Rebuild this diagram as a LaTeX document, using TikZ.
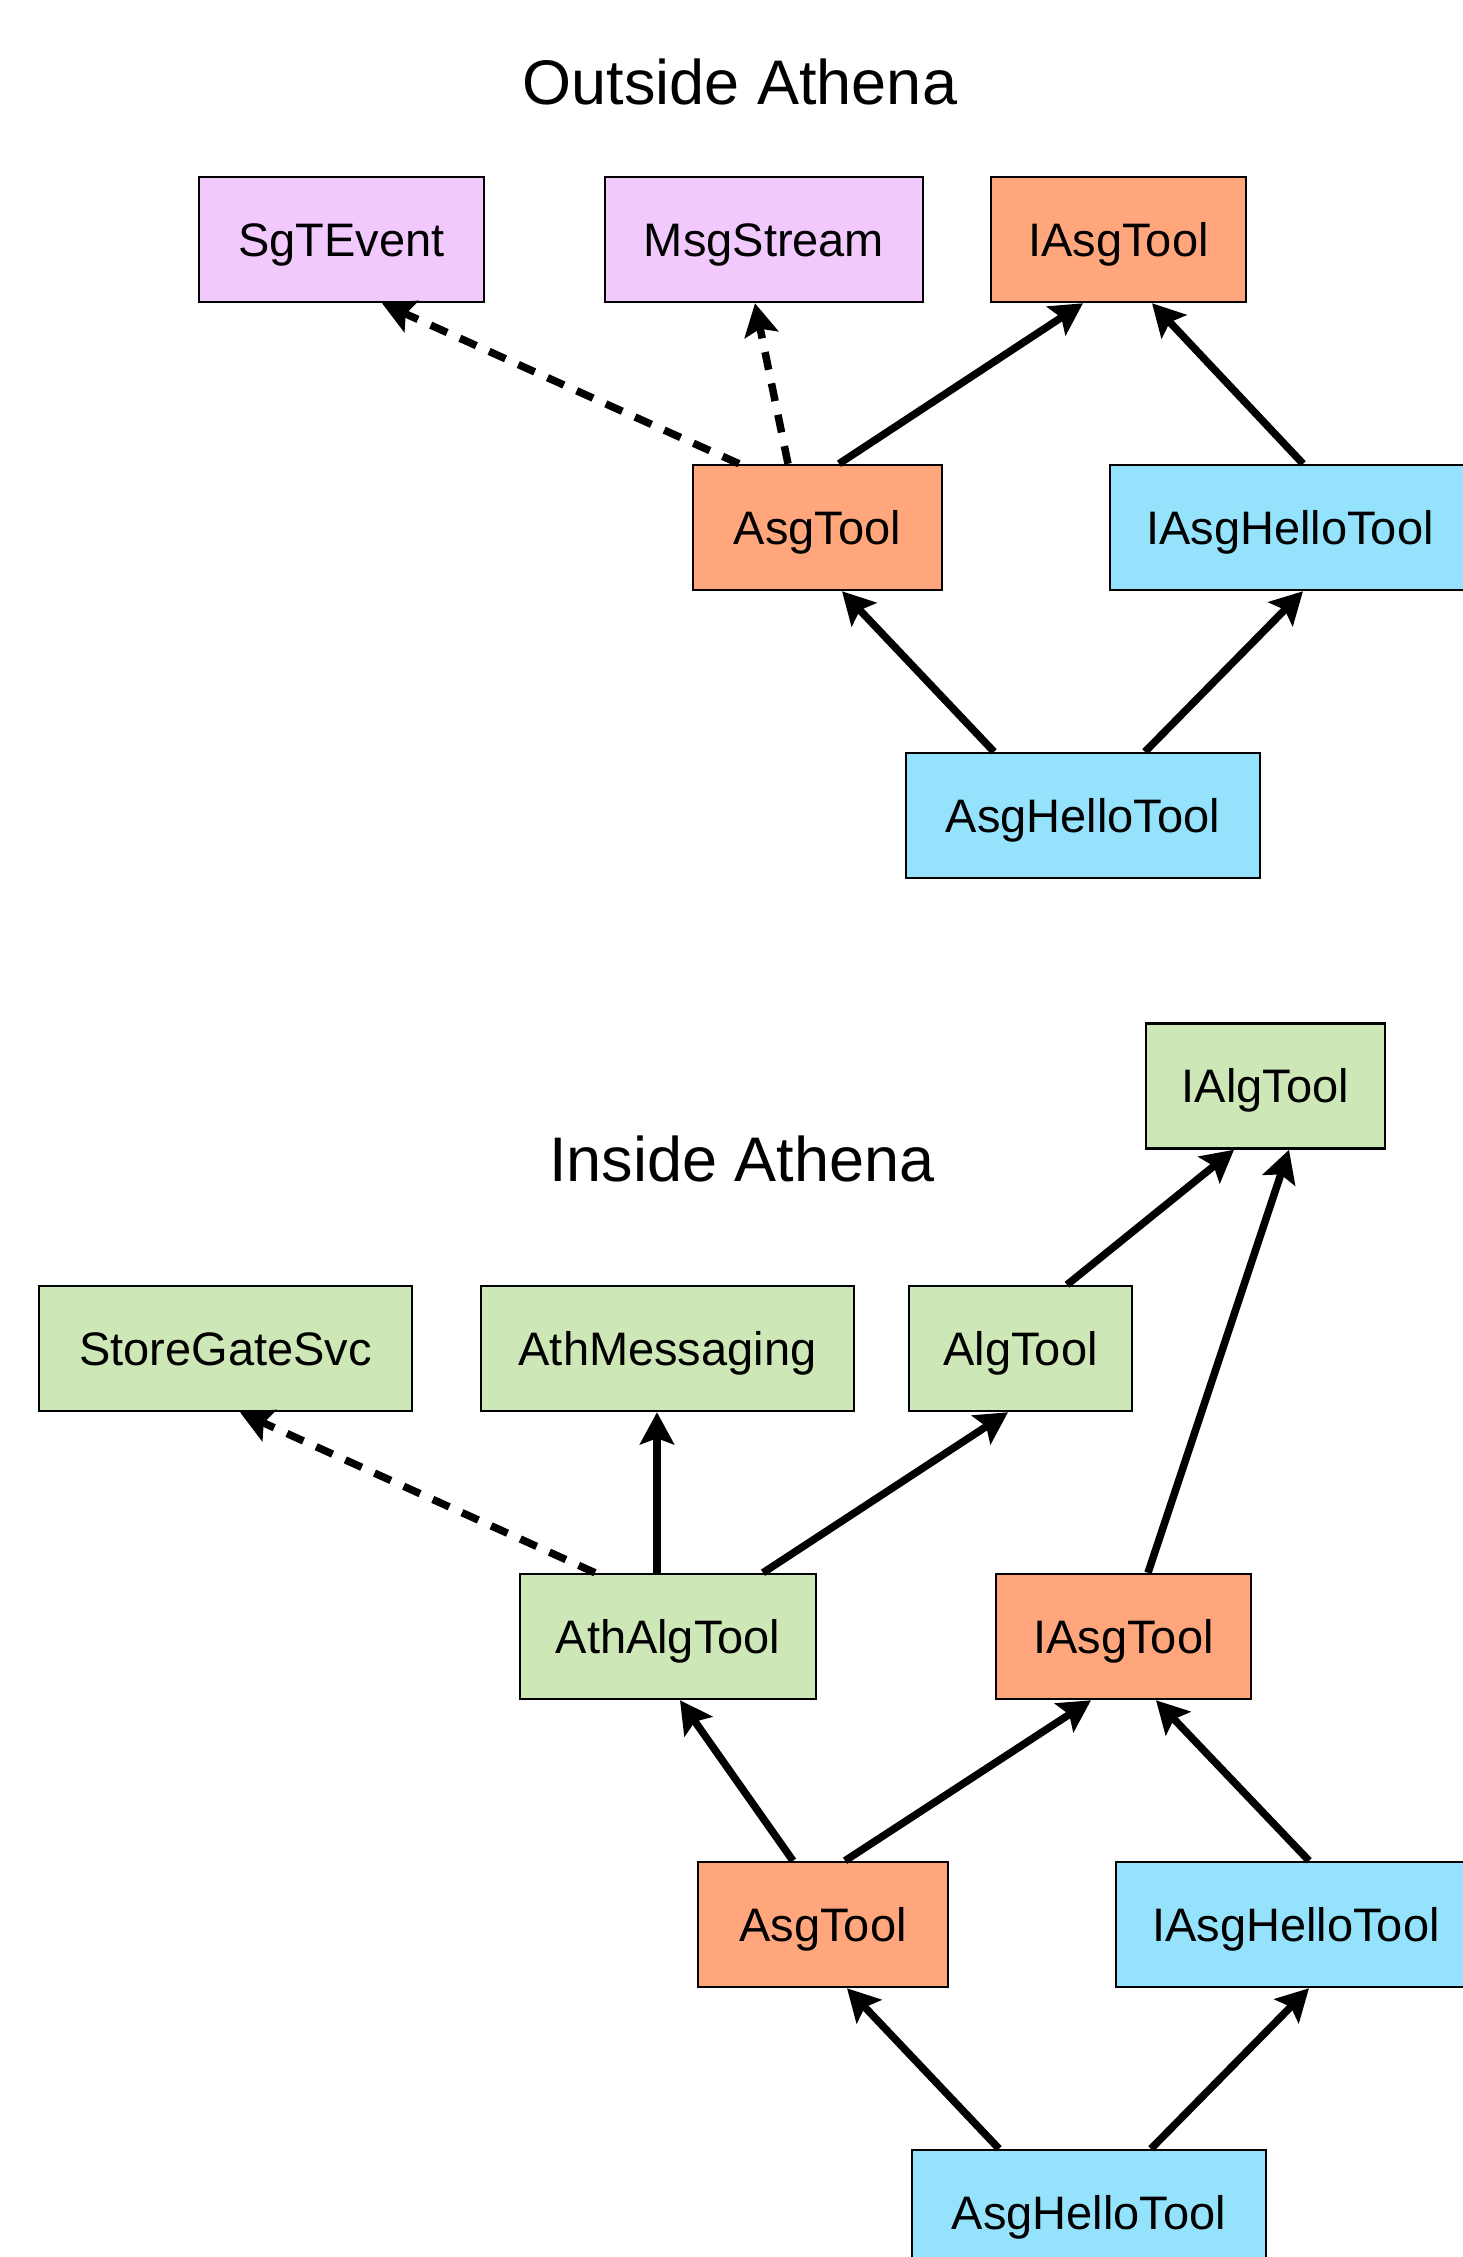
\documentclass[tikz,border=0pt]{standalone}
\usepackage{fontspec}
\setmainfont{Liberation Sans}
\usetikzlibrary{arrows.meta,calc}
\definecolor{cpurple}{RGB}{241,201,253}
\definecolor{corange}{RGB}{255,166,125}
\definecolor{cblue}{RGB}{148,226,252}
\definecolor{cgreen}{RGB}{205,232,182}
\tikzset{
  box/.style={draw=black,line width=2.5pt,rectangle,minimum height=125pt,inner sep=0pt,
    text height=33pt,text depth=0pt,
    font=\fontsize{47}{56}\selectfont},
  purplebox/.style={box,fill=cpurple},
  orangebox/.style={box,fill=corange},
  bluebox/.style={box,fill=cblue},
  greenbox/.style={box,fill=cgreen},
  titletext/.style={font=\fontsize{63}{75}\selectfont,inner sep=0pt},
  conn/.style={line width=7.5pt,-{Stealth[length=32pt,width=34pt,inset=6pt]}},
  dconn/.style={conn,dash pattern=on 18pt off 14pt},
}
\begin{document}
\begin{tikzpicture}[x=1pt,y=-1pt]
\useasboundingbox (0,0) rectangle (1463,2257);
\clip (0,0) rectangle (1463,2257);
% ---------- Outside Athena ----------
\node[titletext] (t1) at (740,82) {Outside Athena};
\node[purplebox,minimum width=285pt] (sgt) at (341.5,239.5) {SgTEvent};
\node[purplebox,minimum width=318pt] (msg) at (764,239.5) {MsgStream};
\node[orangebox,minimum width=255pt] (iasgA) at (1118.5,239.5) {IAsgTool};
\node[orangebox,minimum width=249pt] (asgA) at (817.5,527.5) {AsgTool};
\node[bluebox,minimum width=360pt] (ihelloA) at (1290,527.5) {IAsgHelloTool};
\node[bluebox,minimum width=354pt] (helloA) at (1083,815.5) {AsgHelloTool};

\draw[dconn] ([xshift=-78.5pt]asgA.north) -- ([xshift=40.5pt]sgt.south);
\draw[dconn] ([xshift=-29.5pt]asgA.north) -- ([xshift=-9pt]msg.south);
\draw[conn] ([xshift=21.5pt]asgA.north) -- ([xshift=-35.5pt]iasgA.south);
\draw[conn] ([xshift=13pt]ihelloA.north) -- ([xshift=33.5pt]iasgA.south);
\draw[conn] ([xshift=-89pt]helloA.north) -- ([xshift=24.5pt]asgA.south);
\draw[conn] ([xshift=62pt]helloA.north) -- ([xshift=13pt]ihelloA.south);

% ---------- Inside Athena ----------
\node[titletext] (t2) at (742,1159) {Inside Athena};
\node[greenbox,minimum width=239pt] (ialg) at (1265.5,1086) {IAlgTool};
\node[greenbox,minimum width=373pt] (sgs) at (225.5,1348.5) {StoreGateSvc};
\node[greenbox,minimum width=373pt] (athmsg) at (667.5,1348.5) {AthMessaging};
\node[greenbox,minimum width=223pt] (algtool) at (1020.5,1348.5) {AlgTool};
\node[greenbox,minimum width=296pt] (athalg) at (668,1636.5) {AthAlgTool};
\node[orangebox,minimum width=255pt] (iasgB) at (1123.5,1636.5) {IAsgTool};
\node[orangebox,minimum width=250pt] (asgB) at (823,1924.5) {AsgTool};
\node[bluebox,minimum width=360pt] (ihelloB) at (1296,1924.5) {IAsgHelloTool};
\node[bluebox,minimum width=354pt] (helloB) at (1089,2212.5) {AsgHelloTool};

\draw[dconn] ([xshift=-73pt]athalg.north) -- ([xshift=14.5pt]sgs.south);
\draw[conn] ([xshift=-11pt]athalg.north) -- ([xshift=-10.5pt]athmsg.south);
\draw[conn] ([xshift=95pt]athalg.north) -- ([xshift=-12.5pt]algtool.south);
\draw[conn] ([xshift=46.5pt]algtool.north) -- ([xshift=-31.5pt]ialg.south);
\draw[conn] ([xshift=24.5pt]iasgB.north) -- ([xshift=23.5pt]ialg.south);
\draw[conn] ([xshift=-30pt]asgB.north) -- ([xshift=12pt]athalg.south);
\draw[conn] ([xshift=22pt]asgB.north) -- ([xshift=-32.5pt]iasgB.south);
\draw[conn] ([xshift=13pt]ihelloB.north) -- ([xshift=32.5pt]iasgB.south);
\draw[conn] ([xshift=-90pt]helloB.north) -- ([xshift=24pt]asgB.south);
\draw[conn] ([xshift=62pt]helloB.north) -- ([xshift=13pt]ihelloB.south);
\end{tikzpicture}
\end{document}
